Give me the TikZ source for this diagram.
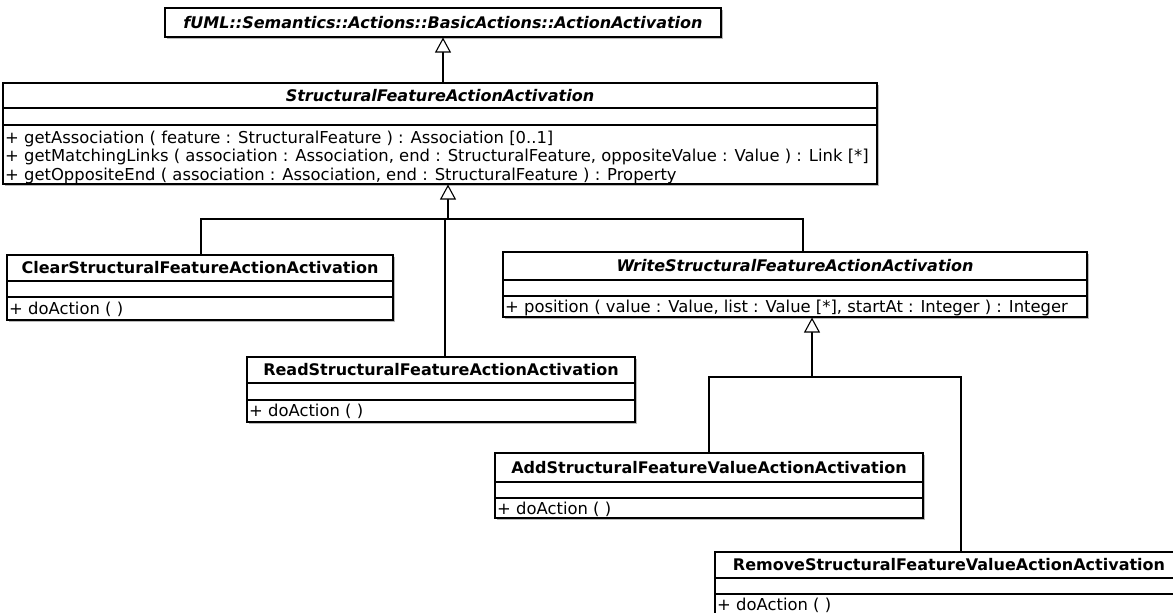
\documentclass[tikz,border=0pt]{standalone}
\usepackage{fontspec}
\setmainfont{DejaVu Sans}
\usetikzlibrary{arrows.meta,shadows,fit}
\tikzset{
  clsbox/.style={draw=black, line width=1.1pt, fill=white, inner sep=0pt,
    drop shadow={shadow xshift=2pt, shadow yshift=-2pt, fill=black!45, opacity=0.6}},
  sepline/.style={draw=black, line width=1.1pt},
  cname/.style={font=\fontsize{16}{19}\selectfont\bfseries, inner sep=0pt, text height=11.7pt, text depth=0pt},
  aname/.style={cname, font=\fontsize{16}{19}\selectfont\bfseries\itshape},
  optext/.style={font=\fontsize{16.4}{19}\selectfont, inner sep=0pt, anchor=west, text height=11.9pt, text depth=0pt},
  conn/.style={draw=black, line width=1.1pt},
  gen/.style={conn, -{Triangle[open, length=15pt, width=16pt, fill=white, line width=1.1pt]}},
}
\begin{document}
\begin{tikzpicture}[x=1pt, y=-1pt]
\useasboundingbox (0,0) rectangle (1173,613);

% top class
\node[clsbox, fit={(165,8) (721,37)}] (top) {};
\node[aname] (top-t) at (443,22.5) {fUML::Semantics::Actions::BasicActions::ActionActivation};

% StructuralFeatureActionActivation
\node[clsbox, fit={(3,83) (877,184)}] (sfaa) {};
\draw[sepline] (3,108) -- (877,108);
\draw[sepline] (3,125) -- (877,125);
\node[aname] (sfaa-t) at (440,95.5) {StructuralFeatureActionActivation};
\node[optext] (sfaa-o1) at (5,137.5) {+ getAssociation ( feature : StructuralFeature ) : Association [0..1]};
\node[optext] (sfaa-o2) at (5,156) {+ getMatchingLinks ( association : Association, end : StructuralFeature, oppositeValue : Value ) : Link [*]};
\node[optext] (sfaa-o3) at (5,174.5) {+ getOppositeEnd ( association : Association, end : StructuralFeature ) : Property};

% Clear
\node[clsbox, fit={(7,255) (393,320)}] (clear) {};
\draw[sepline] (7,281) -- (393,281);
\draw[sepline] (7,297) -- (393,297);
\node[cname] (clear-t) at (200,268) {ClearStructuralFeatureActionActivation};
\node[optext] (clear-o) at (9,309) {+ doAction ( )};

% Write
\node[clsbox, fit={(503,252) (1087,317)}] (write) {};
\draw[sepline] (503,280) -- (1087,280);
\draw[sepline] (503,296) -- (1087,296);
\node[aname] (write-t) at (795,266) {WriteStructuralFeatureActionActivation};
\node[optext] (write-o) at (505,307) {+ position ( value : Value, list : Value [*], startAt : Integer ) : Integer};

% Read
\node[clsbox, fit={(247,357) (635,422)}] (read) {};
\draw[sepline] (247,383) -- (635,383);
\draw[sepline] (247,400) -- (635,400);
\node[cname] (read-t) at (441,370) {ReadStructuralFeatureActionActivation};
\node[optext] (read-o) at (249,411) {+ doAction ( )};

% Add
\node[clsbox, fit={(495,453) (923,518)}] (add) {};
\draw[sepline] (495,482) -- (923,482);
\draw[sepline] (495,498) -- (923,498);
\node[cname] (add-t) at (709,467.5) {AddStructuralFeatureValueActionActivation};
\node[optext] (add-o) at (497,509) {+ doAction ( )};

% Remove
\node[clsbox, fit={(715,552) (1183,625)}] (remove) {};
\draw[sepline] (715,578) -- (1183,578);
\draw[sepline] (715,594) -- (1183,594);
\node[cname] (remove-t) at (949,565) {RemoveStructuralFeatureValueActionActivation};
\node[optext] (remove-o) at (717,605) {+ doAction ( )};

% connectors
\coordinate (j1) at (443,60);
\draw[gen] (sfaa.north -| j1) -- (top.south -| j1);

\coordinate (b2) at (448,219);
\coordinate (c1) at (201,219);
\coordinate (c2) at (445,219);
\coordinate (c3) at (803,219);
\draw[gen] (b2) -- (sfaa.south -| b2);
\draw[conn] (clear.north -| c1) -- (c1) -- (c3) -- (write.north -| c3);
\draw[conn] (read.north -| c2) -- (c2);

\coordinate (d0) at (812,377);
\coordinate (d1) at (709,377);
\coordinate (d2) at (961,377);
\draw[gen] (d0) -- (write.south -| d0);
\draw[conn] (add.north -| d1) -- (d1) -- (d2) -- (remove.north -| d2);
\end{tikzpicture}
\end{document}
